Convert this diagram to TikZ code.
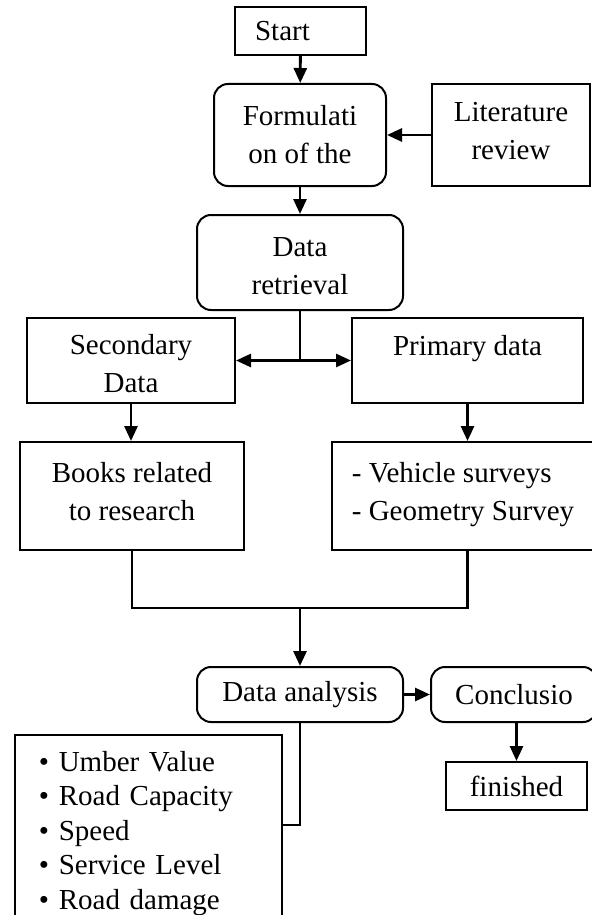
\documentclass[tikz,border=0pt]{standalone}
\usepackage{fontspec}
\setmainfont{Liberation Serif}
\usetikzlibrary{arrows.meta}

\newcommand{\upstrut}{\rule{0pt}{13.5pt}}
\newcommand{\downstrut}[1]{\rule[-#1]{0pt}{0pt}}

\begin{document}
\begin{tikzpicture}[x=0.5pt, y=-0.5pt, >={Triangle[length=7.5pt,width=6.5pt]},
    box/.style={draw, line width=1pt, align=center, inner sep=0pt,
        font=\fontsize{14.5}{19}\selectfont},
    rbox/.style={box, rounded corners=7pt},
    link/.style={line width=1.4pt}]
    \clip (0,0) rectangle (592,915);

    \node[box, minimum width=65.5pt, minimum height=24pt] (start) at (300.5,31)
        {\hspace*{-18pt}\raisebox{-2pt}{Start}};
    \node[rbox, minimum width=86pt, minimum height=51pt] (form) at (300,135) {Formulati\\on of the};
    \node[box, minimum width=79pt, minimum height=51pt] (lit) at (511,135)
        {Literature\\review\downstrut{4pt}};
    \node[rbox, minimum width=103pt, minimum height=47.5pt] (retr) at (300,262.5)
        {\upstrut Data\\retrieval};

    \node[box, minimum width=104pt, minimum height=42.5pt] (second) at (131,360.5)
        {\upstrut Secondary\\Data};
    \node[box, minimum width=115.5pt, minimum height=42.5pt] (prim) at (467.5,360.5)
        {\upstrut Primary data\\\mbox{}};
    \node[box, minimum width=112pt, minimum height=54pt] (books) at (132,496)
        {Books related\\to research\downstrut{5pt}};
    \node[box, align=left, minimum width=131pt, minimum height=54pt] (veh) at (463,496)
        {- Vehicle surveys\\- Geometry Survey\downstrut{5pt}};

    \node[rbox, minimum width=103pt, minimum height=27.5pt] (ana) at (300,694.5)
        {\raisebox{-2pt}{Data analysis}};
    \node[rbox, minimum width=83pt, minimum height=27.5pt] (concl) at (514,694.5)
        {\raisebox{-2pt}{Conclusio}};
    \node[box, minimum width=70.5pt, minimum height=24pt] (fin) at (516.5,786)
        {\raisebox{-2pt}{finished}};
    \node[box, anchor=north west, align=left, text width=109.5pt, inner xsep=12pt, inner ysep=8pt,
        font=\fontsize{14.5}{17.25}\selectfont] (factors) at (14,734)
        {• Umber Value\\• Road Capacity\\• Speed\\• Service Level\\• Road damage};

    % connectors
    \draw[link, ->] (start) -- (form);
    \draw[link, ->] (lit) -- (form);
    \draw[link, ->] (form) -- (retr);

    \coordinate (split) at (retr.south |- second.east);
    \draw[link] (retr.south) -- (split);
    \draw[link, ->] (split) -- (second.east);
    \draw[link, ->] (split) -- (prim.west);
    \draw[link, ->] (second.south) -- (second.south |- books.north);
    \draw[link, ->] (prim.south) -- (prim.south |- veh.north);

    \coordinate (merge) at (300,608);
    \draw[link] (books.south) -- (books.south |- merge) -- (merge -| prim.south) -- (prim.south |- veh.south);
    \draw[link, ->] (merge) -- (ana.north);
    \draw[link, ->] (ana) -- (concl);
    \draw[link, ->] (concl.south -| fin.north) -- (fin.north);

    \coordinate (tap) at (300,825);
    \draw[link] (ana.south) -- (tap) -- (tap -| factors.east);
\end{tikzpicture}
\end{document}
